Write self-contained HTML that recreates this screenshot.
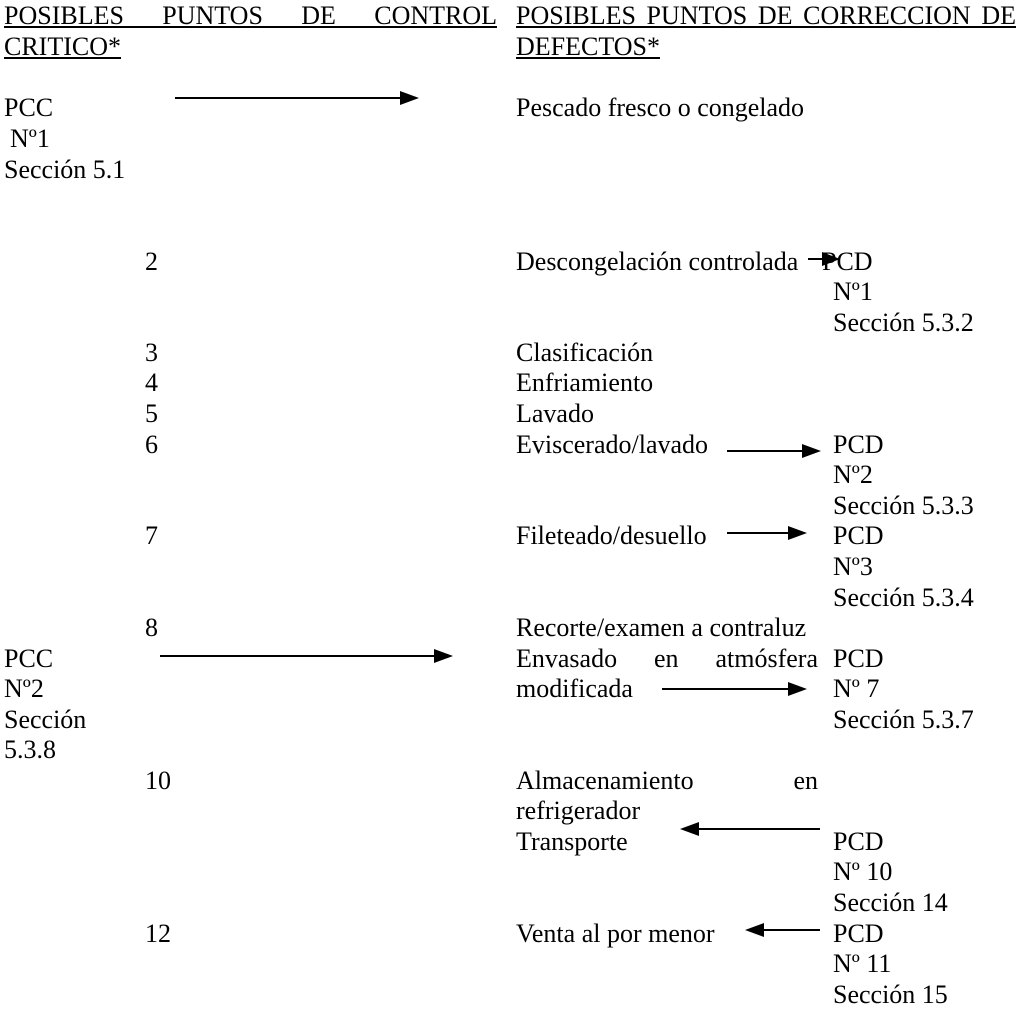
<!DOCTYPE html>
<html><head><meta charset="utf-8"><style>
html,body{margin:0;padding:0;background:#fff;}
body{width:1021px;height:1007px;position:relative;overflow:hidden;font-family:"Liberation Serif",serif;font-size:26px;color:#000;}
.t{position:absolute;line-height:30px;white-space:nowrap;}
.j{text-align:justify;text-align-last:justify;white-space:normal;}
.u{text-decoration:underline;}
svg{position:absolute;left:0;top:0;}
</style></head><body>
<div class="t j u" style="left:4px;top:1px;width:493px">POSIBLES PUNTOS DE CONTROL</div>
<div class="t u" style="left:4px;top:32px">CRITICO*</div>
<div class="t j u" style="left:516px;top:1px;width:500px">POSIBLES PUNTOS DE CORRECCION DE</div>
<div class="t u" style="left:516px;top:32px">DEFECTOS*</div>

<div class="t" style="left:4px;top:93px">PCC</div>
<div class="t" style="left:10px;top:124px">Nº1</div>
<div class="t" style="left:4px;top:155px">Sección 5.1</div>
<div class="t" style="left:516px;top:93px">Pescado fresco o congelado</div>

<div class="t" style="left:145px;top:247px">2</div>
<div class="t" style="left:516px;top:247px">Descongelación controlada</div>
<div class="t" style="left:822px;top:247px">PCD</div>
<div class="t" style="left:833px;top:277px">Nº1</div>
<div class="t" style="left:833px;top:308px">Sección 5.3.2</div>

<div class="t" style="left:145px;top:338px">3</div><div class="t" style="left:516px;top:338px">Clasificación</div>
<div class="t" style="left:145px;top:368px">4</div><div class="t" style="left:516px;top:368px">Enfriamiento</div>
<div class="t" style="left:145px;top:399px">5</div><div class="t" style="left:516px;top:399px">Lavado</div>
<div class="t" style="left:145px;top:430px">6</div><div class="t" style="left:516px;top:430px">Eviscerado/lavado</div>
<div class="t" style="left:833px;top:430px">PCD</div>
<div class="t" style="left:833px;top:460px">Nº2</div>
<div class="t" style="left:833px;top:491px">Sección 5.3.3</div>
<div class="t" style="left:145px;top:521px">7</div><div class="t" style="left:516px;top:521px">Fileteado/desuello</div>
<div class="t" style="left:833px;top:521px">PCD</div>
<div class="t" style="left:833px;top:552px">Nº3</div>
<div class="t" style="left:833px;top:583px">Sección 5.3.4</div>
<div class="t" style="left:145px;top:613px">8</div><div class="t" style="left:516px;top:613px">Recorte/examen a contraluz</div>

<div class="t" style="left:4px;top:644px">PCC</div>
<div class="t" style="left:4px;top:674px">Nº2</div>
<div class="t" style="left:4px;top:705px">Sección</div>
<div class="t" style="left:4px;top:735px">5.3.8</div>
<div class="t j" style="left:516px;top:644px;width:302px">Envasado en atmósfera</div>
<div class="t" style="left:516px;top:674px">modificada</div>
<div class="t" style="left:833px;top:644px">PCD</div>
<div class="t" style="left:833px;top:674px">Nº 7</div>
<div class="t" style="left:833px;top:705px">Sección 5.3.7</div>

<div class="t" style="left:145px;top:766px">10</div>
<div class="t j" style="left:516px;top:766px;width:302px">Almacenamiento en</div>
<div class="t" style="left:516px;top:796px">refrigerador</div>
<div class="t" style="left:516px;top:827px">Transporte</div>
<div class="t" style="left:833px;top:827px">PCD</div>
<div class="t" style="left:833px;top:857px">Nº 10</div>
<div class="t" style="left:833px;top:888px">Sección 14</div>
<div class="t" style="left:145px;top:919px">12</div>
<div class="t" style="left:516px;top:919px">Venta al por menor</div>
<div class="t" style="left:833px;top:919px">PCD</div>
<div class="t" style="left:833px;top:949px">Nº 11</div>
<div class="t" style="left:833px;top:980px">Sección 15</div>

<svg width="1021" height="1007">
<g stroke="#000" stroke-width="2" fill="#000">
<line x1="175" y1="98" x2="402" y2="98"/><polygon points="400,91 419,98 400,105" stroke="none"/>
<line x1="808" y1="259" x2="824" y2="259"/><polygon points="822,252 840,259 822,266" stroke="none"/>
<line x1="727" y1="451" x2="804" y2="451"/><polygon points="802,444 821,451 802,458" stroke="none"/>
<line x1="727" y1="533" x2="790" y2="533"/><polygon points="788,526 807,533 788,540" stroke="none"/>
<line x1="160" y1="656" x2="436" y2="656"/><polygon points="434,649 453,656 434,663" stroke="none"/>
<line x1="662" y1="689" x2="790" y2="689"/><polygon points="788,682 807,689 788,696" stroke="none"/>
<line x1="697" y1="829" x2="820" y2="829"/><polygon points="699,822 680,829 699,836" stroke="none"/>
<line x1="762" y1="930" x2="820" y2="930"/><polygon points="764,923 745,930 764,937" stroke="none"/>
</g></svg>
</body></html>
